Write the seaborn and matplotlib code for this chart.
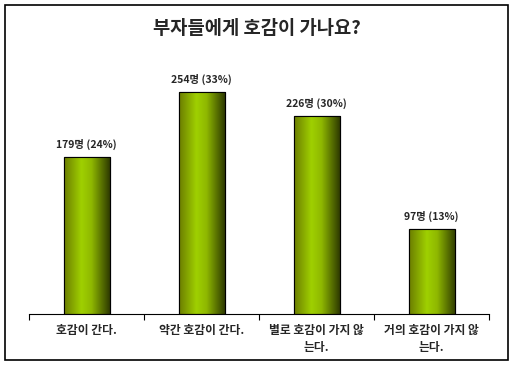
import numpy as np
import pandas as pd
import matplotlib.pyplot as plt
import seaborn as sns
from matplotlib.colors import LinearSegmentedColormap
from matplotlib.patches import Rectangle

categories = ["호감이 간다.", "약간 호감이 간다.", "별로 호감이 가지 않\n는다.", "거의 호감이 가지 않\n는다."]
counts = [179, 254, 226, 97]
percents = [24, 33, 30, 13]

df = pd.DataFrame({"answer": categories, "count": counts})

sns.set_style("white")
plt.rcParams['font.family'] = ['Noto Sans CJK KR', 'DejaVu Sans']

fig = plt.figure(figsize=(5.14, 3.66), dpi=100)
ax = fig.add_axes([29 / 514, 52 / 366, 460 / 514, 254 / 366])

sns.barplot(data=df, x="answer", y="count", width=0.4, color="#99cc00",
            edgecolor="black", linewidth=0.8, ax=ax)

# cylinder-like shading on each bar
cmap = LinearSegmentedColormap.from_list(
    "cyl", [(0, "#6b7d00"), (0.38, "#9fd000"), (0.6, "#8fb800"), (1, "#2e3a00")])
grad = np.linspace(0, 1, 256).reshape(1, -1)
for p in ax.patches:
    x0, y0 = p.get_x(), p.get_y()
    w, h = p.get_width(), p.get_height()
    im = ax.imshow(grad, cmap=cmap, aspect="auto", extent=(x0, x0 + w, y0, y0 + h),
                   zorder=p.get_zorder() + 0.1)
    im.set_clip_path(p)
    ax.add_patch(Rectangle((x0, y0), w, h, fill=False, edgecolor="black",
                           linewidth=0.8, zorder=p.get_zorder() + 0.2))

ax.set_xlim(-0.5, len(categories) - 0.5)
ax.set_ylim(0, 290)

for i, (c, pc) in enumerate(zip(counts, percents)):
    ax.annotate(f"{c}명 ({pc}%)", (i, c), xytext=(0, 5), textcoords="offset points",
                ha="center", va="bottom", fontsize=7.5, fontweight="bold")

for s in ["top", "right", "left"]:
    ax.spines[s].set_visible(False)
ax.spines["bottom"].set_color("black")
ax.spines["bottom"].set_linewidth(0.8)
ax.set_yticks([])
ax.set_xticks(np.arange(-0.5, len(categories)), minor=False)
ax.set_xticklabels([])
ax.tick_params(axis="x", length=4, direction="out", color="black", width=0.8, bottom=True)
for i, lab in enumerate(categories):
    ax.text(i, -11, lab, ha="center", va="top", fontsize=8.5, fontweight="bold",
            linespacing=1.4)
ax.set_xlabel("")
ax.set_ylabel("")

fig.text(0.5, 1 - 29 / 366, "부자들에게 호감이 가나요?", ha="center", va="center",
         fontsize=13.5, fontweight="bold")

fig.patches.append(Rectangle((5 / 514, 6 / 366), 503 / 514, 355 / 366, transform=fig.transFigure,
                             fill=False, edgecolor="black", linewidth=1.2))

fig.savefig("out.png", dpi=100)
